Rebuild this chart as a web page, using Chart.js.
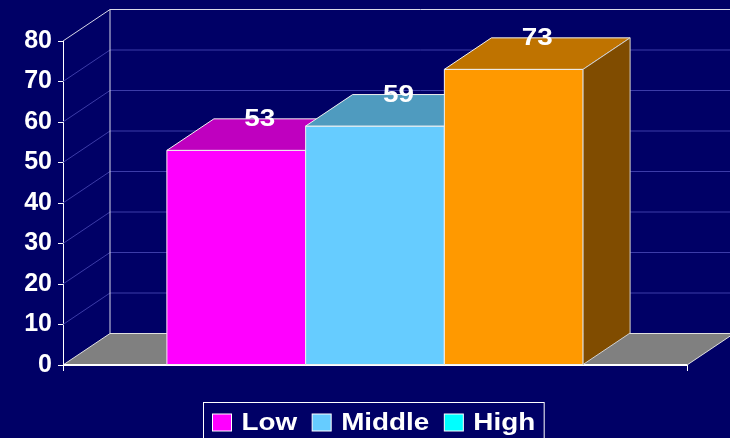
<!DOCTYPE html>
<html>
<head>
<meta charset="utf-8">
<script src="https://cdn.jsdelivr.net/npm/chart.js@4"></script>
<style>
  html, body { margin: 0; padding: 0; background: #000066; }
  #wrap { width: 730px; height: 438px; position: relative; }
</style>
</head>
<body>
<div id="wrap"><canvas id="chart"></canvas></div>
<script>
// data
const categories = [''];
const seriesNames = ['Low', 'Middle', 'High'];
const seriesValues = [[53], [59], [73]];
const yTicks = [0, 10, 20, 30, 40, 50, 60, 70, 80];

// colours
const frontColors = ['#FF00FF', '#66CCFF', '#FF9900'];
const topColors = ['#BF00BF', '#4F9BBF', '#BF7300'];
const sideColors = ['#800080', '#33668C', '#804C00'];
const legendColors = ['#FF00FF', '#66CCFF', '#00FFFF'];

const DX = 47, DY = 31.5; // 3d depth
const FONT = "'Liberation Sans', Arial, sans-serif";
const STRETCH = 1.16; // text in the original is drawn a bit wide

function poly(ctx, pts, fill, stroke) {
    ctx.beginPath();
    ctx.moveTo(pts[0][0], pts[0][1]);
    for (let i = 1; i < pts.length; i++) ctx.lineTo(pts[i][0], pts[i][1]);
    ctx.closePath();
    if (fill) { ctx.fillStyle = fill; ctx.fill(); }
    if (stroke) { ctx.strokeStyle = stroke; ctx.stroke(); }
}

// draw text stretched horizontally, anchored at x
function wideText(ctx, txt, x, y, align) {
    const w = ctx.measureText(txt).width * STRETCH;
    let left = x;
    if (align === 'center') left = x - w / 2;
    ctx.save();
    ctx.translate(left, y);
    ctx.scale(STRETCH, 1);
    ctx.textAlign = 'left';
    ctx.fillText(txt, 0, 0);
    ctx.restore();
}

const box3d = {
    id: 'box3d',
    beforeDatasetsDraw(chart) {
        const ctx = chart.ctx;
        const a = chart.chartArea;
        const y = chart.scales.y;
        ctx.save();
        ctx.lineWidth = 1;
        // gridlines on side and back wall
        ctx.strokeStyle = '#3C3CA8';
        yTicks.forEach(v => {
            if (v === 0 || v === yTicks[yTicks.length - 1]) return;
            const py = y.getPixelForValue(v);
            ctx.beginPath();
            ctx.moveTo(a.left, py);
            ctx.lineTo(a.left + DX, py - DY);
            ctx.lineTo(a.right + DX, py - DY);
            ctx.stroke();
        });
        // wall outline
        const top = y.getPixelForValue(yTicks[yTicks.length - 1]);
        const base = y.getPixelForValue(0);
        ctx.strokeStyle = '#D8D8E8';
        ctx.beginPath();
        ctx.moveTo(a.left, top);
        ctx.lineTo(a.left + DX, top - DY);
        ctx.lineTo(a.right + DX, top - DY);
        ctx.moveTo(a.left + DX, top - DY);
        ctx.lineTo(a.left + DX, base - DY);
        ctx.stroke();
        // floor
        poly(ctx, [[a.left, base], [a.left + DX, base - DY], [a.right + DX, base - DY], [a.right, base]], '#808080', '#E0E0E0');
        ctx.strokeStyle = '#FFFFFF';
        ctx.lineWidth = 2;
        ctx.beginPath();
        ctx.moveTo(a.left, base);
        ctx.lineTo(a.right, base);
        ctx.stroke();
        ctx.lineWidth = 1;
        ctx.beginPath();
        ctx.moveTo(a.left + 0.5, base);
        ctx.lineTo(a.left + 0.5, base + 6);
        ctx.moveTo(a.right + 0.5, base);
        ctx.lineTo(a.right + 0.5, base + 6);
        ctx.stroke();
        ctx.restore();
    },
    afterDatasetsDraw(chart) {
        const ctx = chart.ctx;
        ctx.save();
        ctx.lineWidth = 1;
        const labels = [];
        chart.data.datasets.forEach((ds, i) => {
            const meta = chart.getDatasetMeta(i);
            meta.data.forEach((bar, j) => {
                const p = bar.getProps(['x', 'y', 'base', 'width'], true);
                const l = p.x - p.width / 2, r = p.x + p.width / 2;
                poly(ctx, [[l, p.base], [l, p.y], [r, p.y], [r, p.base]], frontColors[i], '#F0F0F0');
                poly(ctx, [[l, p.y], [l + DX, p.y - DY], [r + DX, p.y - DY], [r, p.y]], topColors[i], '#F0F0F0');
                poly(ctx, [[r, p.base], [r, p.y], [r + DX, p.y - DY], [r + DX, p.base - DY]], sideColors[i], '#D0D0D0');
                labels.push([ds.data[j], p.x + DX / 2, p.y - DY + 1]);
            });
        });
        ctx.fillStyle = '#FFFFFF';
        ctx.font = 'bold 24px ' + FONT;
        ctx.textBaseline = 'middle';
        labels.forEach(([v, x, y]) => wideText(ctx, String(v), x, y, 'center'));
        ctx.restore();
    },
    afterDraw(chart) {
        // legend with border
        const ctx = chart.ctx;
        ctx.save();
        ctx.font = 'bold 24px ' + FONT;
        const boxW = 19, boxH = 17, gapText = 10, gapItem = 15, pad = 9;
        const names = chart.data.datasets.map(d => d.label);
        const widths = names.map(n => ctx.measureText(n).width * STRETCH);
        let total = pad * 2;
        widths.forEach((w, i) => { total += boxW + gapText + w + (i ? gapItem : 0); });
        const cx = (chart.chartArea.left + chart.chartArea.right) / 2 - 2;
        const lx = Math.round(cx - total / 2) + 0.5;
        ctx.strokeStyle = '#FFFFFF';
        ctx.lineWidth = 1;
        ctx.strokeRect(lx, 402.5, total, 60);
        let x = lx + pad;
        const my = 422.5;
        names.forEach((n, i) => {
            ctx.fillStyle = legendColors[i];
            ctx.fillRect(x, my - boxH / 2, boxW, boxH);
            ctx.strokeStyle = '#FFFFFF';
            ctx.strokeRect(x, my - boxH / 2, boxW, boxH);
            ctx.fillStyle = '#FFFFFF';
            ctx.textBaseline = 'middle';
            wideText(ctx, n, x + boxW + gapText, my + 1, 'left');
            x += boxW + gapText + widths[i] + gapItem;
        });
        ctx.restore();
    }
};

const datasets = seriesNames.map((name, i) => ({
    label: name,
    data: seriesValues[i],
    backgroundColor: frontColors[i],
    borderWidth: 0
}));

new Chart(document.getElementById('chart'), {
    type: 'bar',
    data: { labels: categories, datasets },
    options: {
        responsive: true,
        maintainAspectRatio: false,
        animation: false,
        categoryPercentage: 0.667,
        barPercentage: 1,
        layout: { padding: { top: 41, right: 43, bottom: 73, left: 0 } },
        plugins: {
            legend: { display: false },
            tooltip: { enabled: false }
        },
        scales: {
            x: { display: false },
            y: {
                min: 0,
                max: 80,
                afterFit: s => { s.width = 63; },
                afterBuildTicks: s => { s.ticks = yTicks.map(v => ({ value: v })); },
                border: { display: true, color: '#FFFFFF', width: 1 },
                grid: { drawOnChartArea: false, drawTicks: true, tickLength: 5, color: '#FFFFFF' },
                ticks: {
                    color: '#FFFFFF',
                    padding: 6,
                    font: { family: FONT, size: 25, weight: 'bold' }
                }
            }
        }
    },
    plugins: [box3d]
});
</script>
</body>
</html>
